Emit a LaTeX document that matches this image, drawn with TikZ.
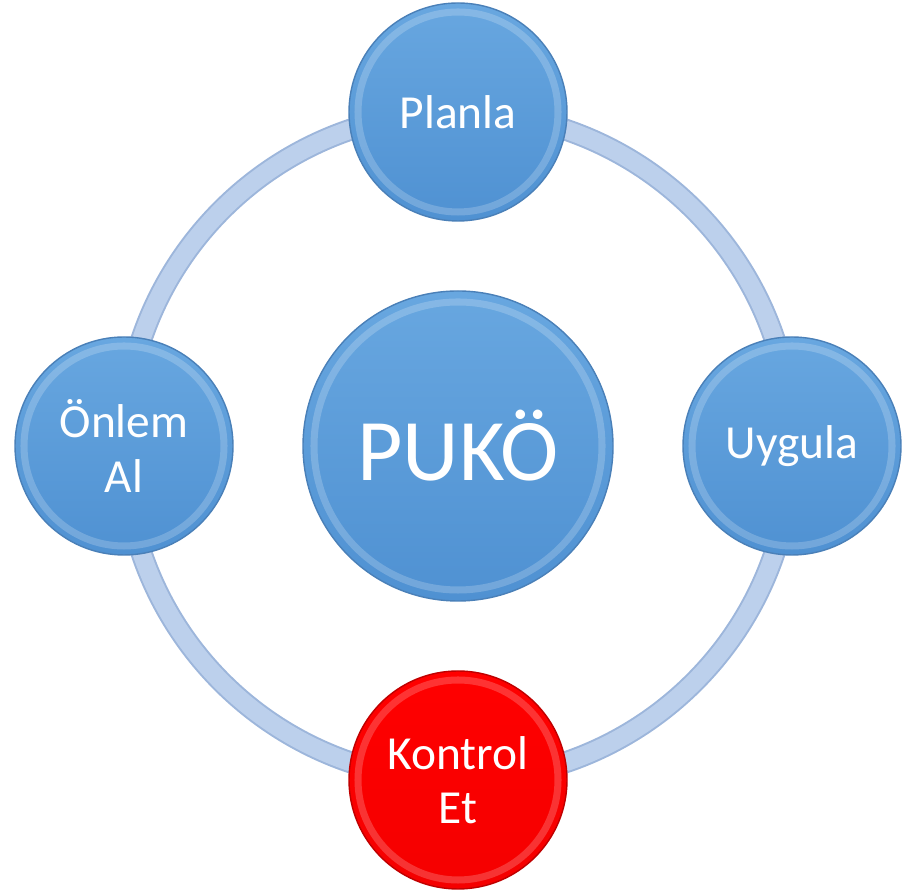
\documentclass[tikz,border=0pt]{standalone}
\usepackage{fontspec}
\setmainfont{Carlito}
\usepackage{tikz}
\usetikzlibrary{positioning,backgrounds}

\definecolor{facetop}{HTML}{68A7E0}
\definecolor{facebot}{HTML}{4F91D2}
\definecolor{edgeblue}{HTML}{4A80B8}
\definecolor{ringfill}{HTML}{BCD0EC}
\definecolor{ringedge}{HTML}{9DB6DB}

\tikzset{
    bevel/.style={path picture={\draw[white, opacity=0.2, line width=4pt] (path picture bounding box.center) circle[radius=#1];}},
    phase/.style={circle, minimum size=4.36cm, inner sep=0pt, top color=facetop, bottom color=facebot, draw=edgeblue, line width=0.8pt, text=white, align=center, font=\fontsize{27}{31}\selectfont, bevel=2.0cm},
    hub/.style={phase, minimum size=6.2cm, font=\fontsize{50}{58}\selectfont, bevel=2.88cm},
    checkphase/.style={phase, top color=red, bottom color=red!96!black, draw=red!75!black},
}

\begin{document}
\begin{tikzpicture}
    \useasboundingbox (0,0) rectangle (18.3,17.82);
    \node [hub] (pukoe) at (9.16,8.9) {PUKÖ}; % center
    \node [phase, on grid, above=6.68cm of pukoe] (planla) {Planla}; % top
    \node [phase, on grid, right=6.68cm of pukoe] (uygula) {Uygula}; % right
    \node [checkphase, on grid, below=6.68cm of pukoe] (kontrol) {Kontrol\\Et}; % bottom, red
    \node [phase, on grid, left=6.68cm of pukoe] (onlem) {Önlem\\Al}; % left
    % ring behind the phases
    \begin{scope}[on background layer]
        \draw [ringedge, line width=0.44cm] (pukoe.center) circle[radius=6.68cm];
        \draw [ringfill, line width=0.36cm] (pukoe.center) circle[radius=6.68cm];
    \end{scope}
\end{tikzpicture}
\end{document}
